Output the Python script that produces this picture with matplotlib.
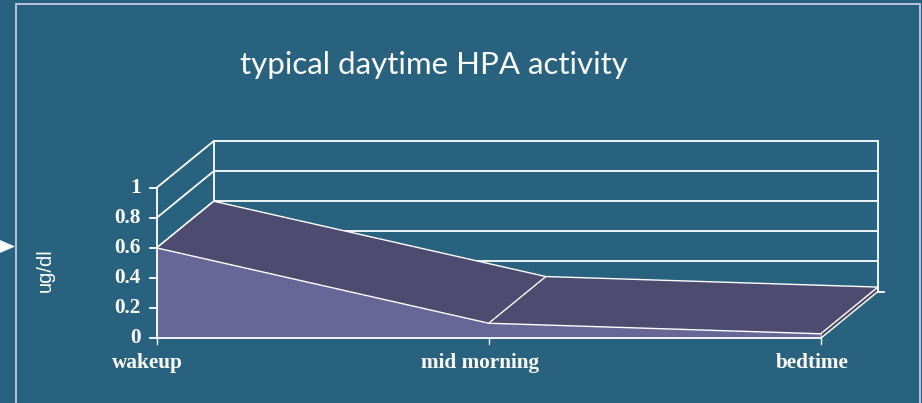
import matplotlib.pyplot as plt
from matplotlib.patches import Polygon, Rectangle
import numpy as np

# dados do grafico
categorias = ['wakeup', 'mid morning', 'bedtime']
valores = [0.6, 0.1, 0.03]
y_ticks = [0, 0.2, 0.4, 0.6, 0.8, 1]
y_labels = ['0', '0.2', '0.4', '0.6', '0.8', '1']
titulo = 'typical daytime HPA activity'
y_titulo = 'ug/dl'

# cores
fundo = '#29627f'
frente = '#676697'
topo = '#4e4b71'
linha = 'white'

# profundidade do efeito 3D (em unidades de categoria / valor)
dx = 0.172
dy = 0.31

fig = plt.figure(figsize=(9.22, 4.03), dpi=100)
fig.patch.set_facecolor(fundo)
ax = fig.add_axes([0, 0, 1, 1])
ax.set_xlim(-0.472, 2.305)
ax.set_ylim(-0.4296, 2.246)
ax.axis('off')

n = len(categorias)
x = np.arange(n)
x_fim = x[-1]

# parede do fundo e lateral
for v in y_ticks:
    ax.plot([dx, x_fim + dx], [v + dy, v + dy], color=linha, lw=1.3, zorder=1)
    ax.plot([0, dx], [v, v + dy], color=linha, lw=1.3, zorder=1)
ax.plot([dx, dx], [dy, 1 + dy], color=linha, lw=1.3, zorder=1)
ax.plot([x_fim + dx, x_fim + dx], [dy, 1 + dy], color=linha, lw=1.3, zorder=1)
ax.plot([x_fim + dx, x_fim + dx + 0.018], [dy, dy], color=linha, lw=1.3, zorder=1)

# superficie superior (segmentos)
for i in range(n - 1):
    quad = [(x[i], valores[i]), (x[i + 1], valores[i + 1]),
            (x[i + 1] + dx, valores[i + 1] + dy), (x[i] + dx, valores[i] + dy)]
    ax.add_patch(Polygon(quad, closed=True, facecolor=topo, edgecolor='none', zorder=2))

# lateral direita
lado = [(x_fim, 0), (x_fim, valores[-1]), (x_fim + dx, valores[-1] + dy), (x_fim + dx, dy)]
ax.add_patch(Polygon(lado, closed=True, facecolor=topo, edgecolor=linha, lw=1.0, zorder=3))

# face frontal
face = [(x[0], 0)] + list(zip(x, valores)) + [(x_fim, 0)]
ax.add_patch(Polygon(face, closed=True, facecolor=frente, edgecolor='none', zorder=3))

# arestas brancas
ax.plot(x, valores, color=linha, lw=1.0, zorder=4)
ax.plot(x + dx, np.array(valores) + dy, color=linha, lw=1.0, zorder=4)
for i in range(n - 1):
    ax.plot([x[i], x[i] + dx], [valores[i], valores[i] + dy], color=linha, lw=1.0, zorder=4)

# eixos
ax.plot([0, 0], [0, 1], color=linha, lw=1.3, zorder=5)
ax.plot([0, x_fim], [0, 0], color=linha, lw=1.3, zorder=5)
for v, lab in zip(y_ticks, y_labels):
    ax.plot([-0.02, 0], [v, v], color=linha, lw=1.3, zorder=5)
    ax.text(-0.048, v, lab, ha='right', va='center', color='white',
            fontsize=15.3, fontweight='bold', family='Liberation Serif')
for xi, cat in zip(x, categorias):
    ax.plot([xi, xi], [0, -0.035], color=linha, lw=1.0, zorder=5)
    ax.text(xi - 0.027, -0.165, cat, ha='center', va='center', color='white',
            fontsize=15.3, fontweight='bold', family='Liberation Serif')

ax.text(-0.335, 0.454, y_titulo, rotation=90, ha='center', va='center',
        color='white', fontsize=14.5, family='Liberation Sans')

fig.text(0.471, 0.838, titulo, ha='center', va='center', color='white',
         fontsize=22.5, family='Lato')

# moldura e seta do slide
fig.patches.append(Rectangle((16 / 922, -0.05), (920 - 16) / 922, 1.05 - 4 / 403,
                             transform=fig.transFigure, fill=False,
                             edgecolor='#d4d4f0', lw=1.2))
fig.patches.append(Polygon([(0, 1 - 240 / 403), (15 / 922, 1 - 246.5 / 403), (0, 1 - 253 / 403)],
                           closed=True, transform=fig.transFigure,
                           facecolor='white', edgecolor='none'))

fig.savefig('out.png', dpi=100, facecolor=fundo)
